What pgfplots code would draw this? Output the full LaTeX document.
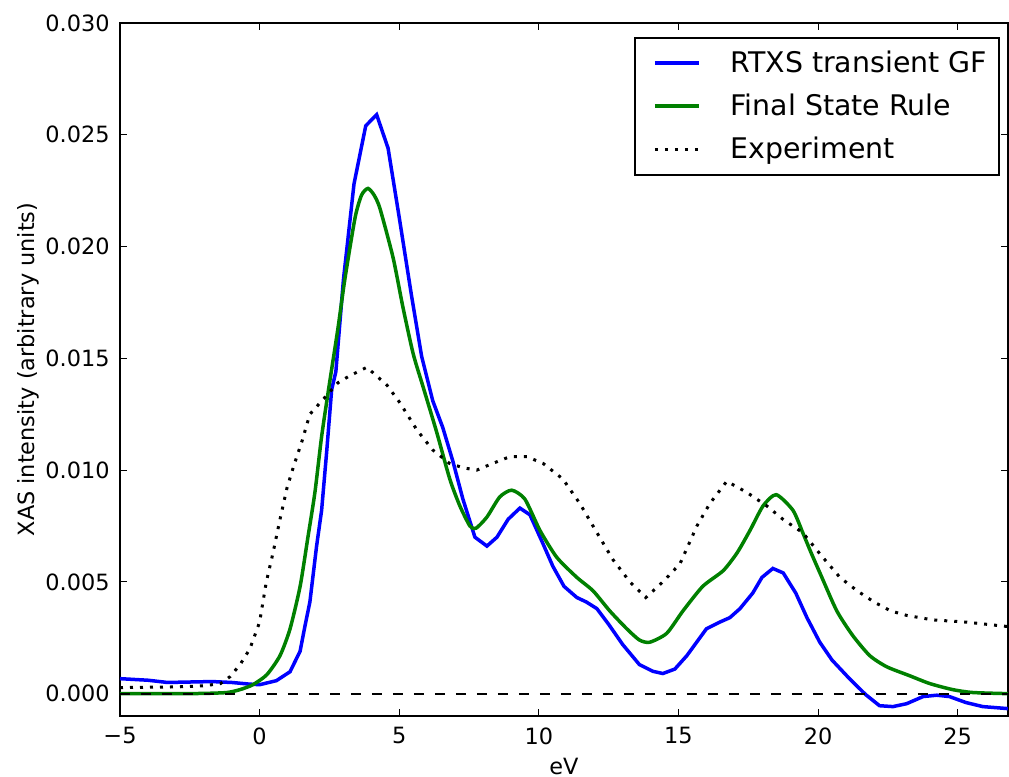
\documentclass[border=0pt]{standalone}
\usepackage{pgfplots}
\pgfplotsset{compat=1.18}
\usepackage{fontspec}
\setmainfont{DejaVu Sans}
\definecolor{mplblue}{RGB}{0,0,255}
\definecolor{mplgreen}{RGB}{0,128,0}
\begin{document}
\begin{tikzpicture}
\useasboundingbox (-60pt,-30.5pt) rectangle (444.5pt,358pt);
\begin{axis}[
  scale only axis,
  width=444pt, height=346.5pt,
  xmin=-5, xmax=26.8, ymin=-0.001, ymax=0.030,
  scaled y ticks=false, scaled x ticks=false,
  xtick={-5,0,5,10,15,20,25},
  xticklabels={−5,0,5,10,15,20,25},
  ytick={0,0.005,0.010,0.015,0.020,0.025,0.030},
  yticklabels={0.000,0.005,0.010,0.015,0.020,0.025,0.030},
  minor tick num=0,
  tick align=inside,
  major tick length=3.5pt,
  every tick/.style={black, line width=0.5pt},
  axis line style={line width=0.8pt},
  tick label style={font=\fontsize{11.2}{13}\selectfont},
  xticklabel style={inner sep=0pt, anchor=north, yshift=-5.5pt},
  yticklabel style={inner sep=0pt, anchor=east, xshift=-5pt},
  label style={font=\fontsize{11.2}{13}\selectfont},
  xlabel={eV},
  ylabel={XAS intensity (arbitrary units)},
  xlabel style={at={(axis description cs:0.5,-0.0606)}, anchor=north, inner sep=0pt},
  ylabel style={at={(axis description cs:-0.103,0.5)}, anchor=center, inner sep=0pt},
  legend style={at={(0.991,0.980)}, anchor=north east, draw=black, line width=1pt,
    font=\fontsize{14.2}{17}\selectfont, row sep=5.25pt,
    inner xsep=4pt, inner ysep=4.5pt,
    /tikz/every odd column/.append style={column sep=13pt}},
  legend cell align=left,
  legend image code/.code={\path (0pt,0pt); \draw[#1] (5pt,0pt) -- (27pt,0pt);},
  clip=true,
]
\addplot[mplblue, line width=1.75pt] coordinates {
(-5,0.00067) (-4,0.00060) (-3.3,0.00050) (-2.5,0.00052) (-1.7,0.00054) (-1,0.00050) (-0.4,0.00043) (0,0.00040) (0.6,0.00058) (1.09,0.00098) (1.45,0.0019) (1.62,0.0030) (1.8,0.0041) (2.04,0.0066) (2.22,0.0082) (2.4,0.0108) (2.58,0.0136) (2.73,0.0144) (3.0,0.0185) (3.38,0.0228) (3.80,0.0254) (4.19,0.0259) (4.6,0.0244) (5.0,0.0213) (5.44,0.0178) (5.8,0.0151) (6.2,0.0131) (6.56,0.0119) (6.92,0.0104) (7.28,0.0087) (7.71,0.0070) (8.14,0.0066) (8.5,0.0070) (8.9,0.0078) (9.32,0.0083) (9.68,0.0080) (10.15,0.0067) (10.5,0.0057) (10.9,0.0048) (11.36,0.0043) (11.7,0.0041) (12.08,0.0038) (12.5,0.0031) (13.0,0.0022) (13.6,0.0013) (14.08,0.0010) (14.44,0.0009) (14.87,0.0011) (15.3,0.0017) (15.65,0.0023) (16.0,0.0029) (16.48,0.0032) (16.84,0.0034) (17.2,0.0038) (17.66,0.0045) (17.99,0.0052) (18.38,0.0056) (18.75,0.0054) (19.2,0.0045) (19.6,0.0034) (20.06,0.0023) (20.5,0.0015) (21.1,0.0007) (21.7,-0.00004) (22.2,-0.00054) (22.68,-0.00058) (23.17,-0.00045) (23.76,-0.00013) (24.25,-0.00007) (24.7,-0.00013) (25.3,-0.0004) (25.9,-0.00058) (26.8,-0.00067)
};
\addlegendentry{RTXS transient GF}
\addplot[mplgreen, line width=1.75pt, smooth, tension=0.4] coordinates {
(-5,0) (-3,0) (-2,0.00001) (-1.17,0.00005) (-0.7,0.00018) (-0.24,0.0004) (0.26,0.00085) (0.73,0.0017) (1.09,0.0029) (1.45,0.0048) (1.73,0.0070) (1.98,0.0090) (2.22,0.0115) (2.48,0.0137) (2.8,0.0163) (3.06,0.0186) (3.42,0.0213) (3.65,0.0223) (3.88,0.0226) (4.1,0.0223) (4.31,0.0217) (4.78,0.0195) (5.13,0.0173) (5.5,0.0152) (5.86,0.0137) (6.34,0.0117) (6.81,0.0096) (7.17,0.0084) (7.53,0.0075) (7.75,0.0074) (8.14,0.0079) (8.6,0.0088) (9.03,0.0091) (9.5,0.0087) (10.04,0.0073) (10.64,0.0061) (11.36,0.0052) (11.94,0.0046) (12.54,0.0037) (13.15,0.0029) (13.6,0.0024) (13.97,0.0023) (14.58,0.0027) (15.16,0.0037) (15.87,0.0048) (16.6,0.0055) (17.1,0.0063) (17.56,0.0073) (18.03,0.0084) (18.5,0.0089) (19.1,0.0082) (19.45,0.0072) (19.75,0.0063) (20.1,0.0053) (20.67,0.0037) (21.24,0.0026) (21.85,0.0017) (22.46,0.0012) (23.28,0.0008) (24.0,0.00045) (24.82,0.00018) (25.54,0.00005) (26.8,0.0)
};
\addlegendentry{Final State Rule}
\addplot[black, line width=1.5pt, dash pattern=on 1.5pt off 3.5pt] coordinates {
(-5,0.00027) (-3,0.00030) (-2,0.00035) (-1.4,0.00045) (-1.06,0.00076) (-0.7,0.0013) (-0.35,0.0020) (0.0,0.0032) (0.24,0.0050) (0.48,0.0063) (0.73,0.0078) (0.98,0.0092) (1.2,0.0101) (1.52,0.0113) (1.8,0.0125) (2.23,0.0131) (2.8,0.0139) (3.2,0.0142) (3.84,0.0146) (4.56,0.0138) (5.03,0.0130) (5.63,0.0118) (6.2,0.0109) (6.8,0.0103) (7.3,0.0101) (7.78,0.0100) (8.35,0.0103) (8.96,0.0106) (9.57,0.0106) (10.15,0.0103) (10.86,0.0096) (11.47,0.0085) (12.08,0.0072) (12.65,0.0060) (13.26,0.0050) (13.83,0.0043) (14.44,0.0050) (15.05,0.0058) (15.66,0.0075) (16.12,0.0085) (16.73,0.0095) (17.45,0.0090) (18.16,0.0084) (18.74,0.0078) (19.45,0.0072) (20.1,0.0062) (20.78,0.0052) (21.4,0.0046) (22.0,0.0041) (22.6,0.0037) (23.17,0.0035) (24.1,0.0033) (25.3,0.0032) (26.8,0.0030)
};
\addlegendentry{Experiment}
\addplot[black, line width=0.9pt, dash pattern=on 5.25pt off 5.25pt, forget plot] coordinates {(-5,0) (26.8,0)};
\end{axis}
\end{tikzpicture}
\end{document}
